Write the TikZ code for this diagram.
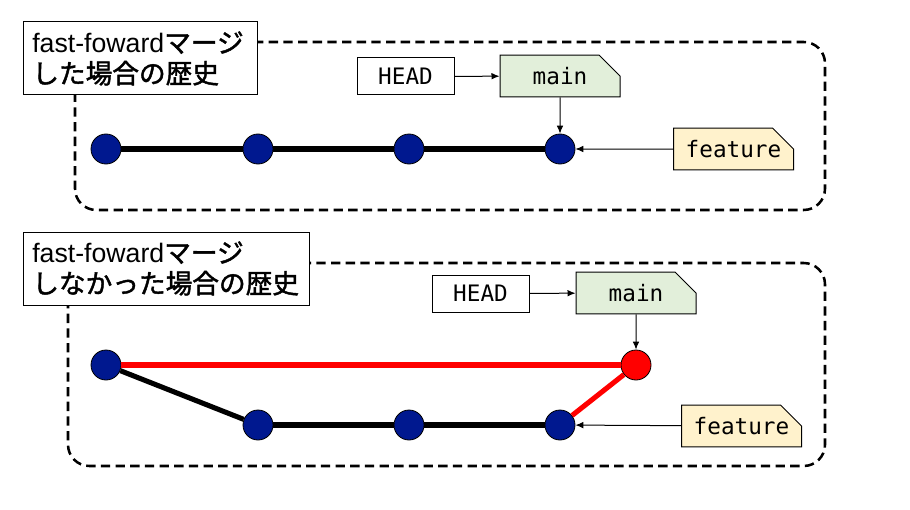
\documentclass[tikz,border=0pt]{standalone}
\usepackage{fontspec}
\setmainfont{Liberation Sans}
\setmonofont{DejaVu Sans Mono}
\newfontfamily\jpfont[BoldFont={Noto Sans CJK JP},BoldFeatures={FakeBold=1.6}]{Noto Sans CJK JP}
\usetikzlibrary{arrows.meta,shapes.misc}
\definecolor{commitblue}{RGB}{0,24,143}
\definecolor{mainfill}{RGB}{226,239,218}
\definecolor{featfill}{RGB}{255,242,204}
\definecolor{mergered}{RGB}{255,0,0}
\begin{document}
\begin{tikzpicture}[x=0.75pt,y=-0.75pt,
  panel/.style={draw,line width=1.9pt,dash pattern=on 7pt off 4pt,rounded corners=16pt},
  titlebox/.style={draw,fill=white,line width=0.75pt,align=left,inner xsep=7pt,inner ysep=0pt,
     minimum height=54.75pt,font=\fontsize{20}{23}\selectfont},
  commit/.style={circle,draw,line width=0.6pt,fill=commitblue,minimum size=22.5pt,inner sep=0pt},
  redcommit/.style={commit,fill=mergered},
  branchline/.style={line width=3.8pt},
  redline/.style={branchline,draw=mergered},
  headbox/.style={draw,line width=0.75pt,fill=white,minimum width=72.75pt,minimum height=27.75pt,
     inner sep=0pt,font=\ttfamily\fontsize{17}{19}\selectfont},
  tagbox/.style={draw,line width=0.75pt,chamfered rectangle,chamfered rectangle corners=north east,
     chamfered rectangle xsep=9pt,chamfered rectangle ysep=9pt,
     minimum width=90pt,minimum height=27pt,inner sep=0pt,font=\ttfamily\fontsize{17}{19}\selectfont},
  ptr/.style={-{Latex[length=6pt,width=5pt]},line width=0.75pt}]
\useasboundingbox (0,0) rectangle (910,510);
\fill[white] (0,0) rectangle (910,510);
% ---------- top panel ----------
\draw[panel] (75,42) rectangle (825,210);
\node[titlebox,text width=161.5pt] (t1) at (140,58.5)
  {fast-foward{\jpfont\bfseries マージ}\\{\jpfont\bfseries した場合の歴史}};
\node[commit] (a1) at (106,149) {};
\node[commit] (a2) at (258,149) {};
\node[commit] (a3) at (409,149) {};
\node[commit] (a4) at (560,149) {};
\draw[branchline] (a1) -- (a2);
\draw[branchline] (a2) -- (a3);
\draw[branchline] (a3) -- (a4);
\node[headbox] (h1) at (405.5,76.5) {HEAD};
\node[tagbox,fill=mainfill] (m1) at (560,76) {main};
\node[tagbox,fill=featfill] (f1) at (733.5,149) {feature};
\draw[ptr] (h1) -- (m1);
\draw[ptr] (m1) -- (a4);
\draw[ptr] (f1) -- (a4);
% ---------- bottom panel ----------
\draw[panel] (68,263) rectangle (825,466);
\node[titlebox,text width=200.5pt] (t2) at (166,268.5)
  {fast-foward{\jpfont\bfseries マージ}\\{\jpfont\bfseries しなかった場合の歴史}};
\node[commit] (b1) at (106,365) {};
\node[commit] (b2) at (258,425) {};
\node[commit] (b3) at (409,425) {};
\node[commit] (b4) at (560,425) {};
\node[redcommit] (b5) at (636,365) {};
\draw[redline] (b1) -- (b5);
\draw[branchline] (b1) -- (b2);
\draw[branchline] (b2) -- (b3);
\draw[branchline] (b3) -- (b4);
\draw[redline] (b4) -- (b5);
\node[headbox] (h2) at (480.5,293.5) {HEAD};
\node[tagbox,fill=mainfill] (m2) at (636,293) {main};
\node[tagbox,fill=featfill] (f2) at (741.5,426) {feature};
\draw[ptr] (h2) -- (m2);
\draw[ptr] (m2) -- (b5);
\draw[ptr] (f2) -- (b4);
\end{tikzpicture}
\end{document}
